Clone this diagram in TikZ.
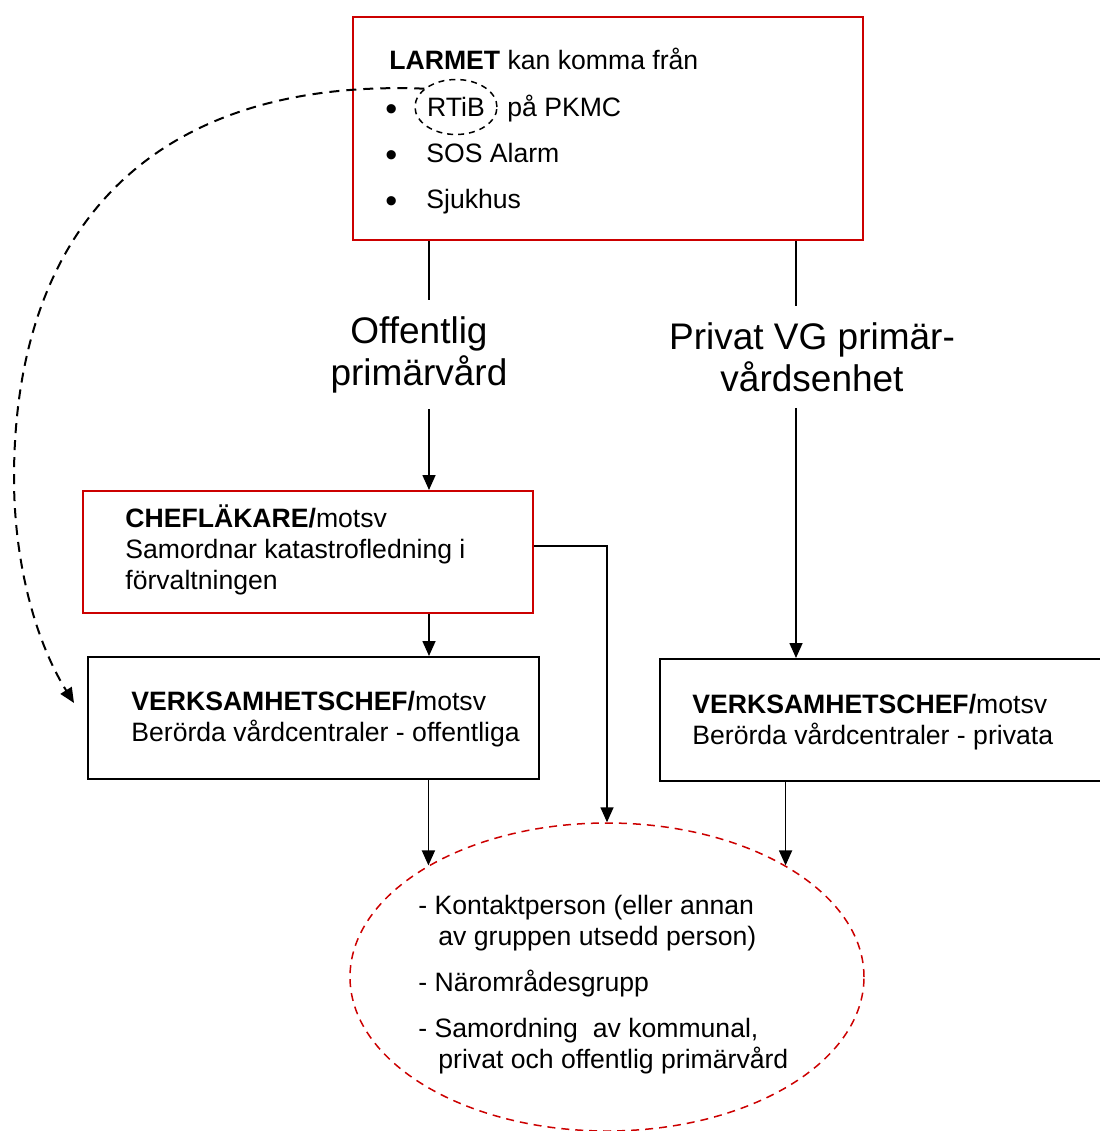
\documentclass[tikz,border=0pt]{standalone}
\usepackage{fontspec}
\setmainfont{Liberation Sans}
\usetikzlibrary{arrows.meta,shapes.geometric}

\definecolor{larmrod}{RGB}{204,0,0}

\tikzset{
  ram/.style={draw, line width=1pt, anchor=north west, inner sep=0pt},
  rodram/.style={ram, draw=larmrod},
  txt/.style={font=\fontsize{13.3}{15.5}\selectfont},
  brod/.style={txt, inner sep=0pt, align=left, anchor=base west},
  rubrik/.style={font=\fontsize{18.5}{21}\selectfont, align=center, anchor=base, inner xsep=0pt, inner ysep=8pt},
  pil/.style={-{Triangle[width=6.5pt,length=7.5pt]}, line width=0.8pt},
  linje/.style={line width=0.8pt}
}

\begin{document}
\begin{tikzpicture}[x=0.5pt, y=-0.5pt]
    \useasboundingbox (0,0) rectangle (1099,1131);

    % Larm box with its list
    \node[rodram, minimum width=255pt, minimum height=111.5pt] (larm) at (352,16) {};
    \node[brod] (larmtxt) at (389,69) {\textbf{LARMET} kan komma från};
    \foreach \y in {116,162,208}
      \node[brod, font=\fontsize{17}{17}\selectfont] (pkt\y) at (385,\y+4) {•};
    \node[txt, ellipse, draw, dash pattern=on 3pt off 2.5pt, line width=0.75pt,
          minimum width=41pt, minimum height=27.5pt, inner sep=0pt] (rtib) at (456,107) {RTiB};
    \node[brod] (pkmc) at (507,116) {på PKMC};
    \node[brod] (sos) at (426,162) {SOS Alarm};
    \node[brod] (sjukhus) at (426,208) {Sjukhus};

    % Headings for the two columns (base = last line)
    \node[rubrik] (offhead) at (419,385) {Offentlig\\primärvård};
    \node[rubrik] (privhead) at (812,391) {Privat VG primär-\\vårdsenhet};

    % Boxes
    \node[rodram, minimum width=225pt, minimum height=61pt] (chefbox) at (82,490) {};
    \node[brod] (cheftxt) at (125,589) {\textbf{CHEFLÄKARE/}motsv\\Samordnar katastrofledning i\\förvaltningen};
    \node[ram, minimum width=225.5pt, minimum height=61pt] (verkoff) at (87,656) {};
    \node[brod] (verkofftxt) at (131,741) {\textbf{VERKSAMHETSCHEF/}motsv\\Berörda vårdcentraler - offentliga};
    \node[ram, minimum width=230pt, minimum height=61pt] (verkpriv) at (659,658) {};
    \node[brod] (verkprivtxt) at (692,744) {\textbf{VERKSAMHETSCHEF/}motsv\\Berörda vårdcentraler - privata};

    % Group ellipse
    \node[ellipse, draw=larmrod, dash pattern=on 4pt off 3pt, line width=0.75pt,
          minimum width=257pt, minimum height=154pt, inner sep=0pt] (grupp) at (607,977) {};
    \node[brod] (grupptxt) at (418,1068) {- Kontaktperson (eller annan\\
      \hspace*{10pt}av gruppen utsedd person)\\[7.5pt]
      - Närområdesgrupp\\[7.5pt]
      - Samordning\ \ av kommunal,\\
      \hspace*{10pt}privat och offentlig primärvård};

    % Connectors
    \coordinate (offlinje) at (429,0);
    \coordinate (privlinje) at (796,0);
    \draw[linje] (larm.south -| offlinje) -- (offhead.north -| offlinje);
    \draw[pil] (offhead.south -| offlinje) -- (chefbox.north -| offlinje);
    \draw[linje] (larm.south -| privlinje) -- (privhead.north -| privlinje);
    \draw[pil] (privhead.south -| privlinje) -- (verkpriv.north -| privlinje);
    \draw[pil] (chefbox.south -| offlinje) -- (verkoff.north -| offlinje);
    \draw[pil] ([yshift=3pt]chefbox.east) -| (grupp.north);
    \draw[pil] (grupp.148 |- verkoff.south) -- (grupp.148);
    \draw[pil] (grupp.32 |- verkpriv.south) -- (grupp.32);

    % Dashed link from RTiB
    \coordinate (rtibpil) at (74,703);
    \draw[pil, line width=1pt, dash pattern=on 5pt off 3.5pt]
      (rtib.150) .. controls (150,78) and (14,230) .. (14,478)
      .. controls (14,559) and (34,639) .. (rtibpil);

\end{tikzpicture}
\end{document}
